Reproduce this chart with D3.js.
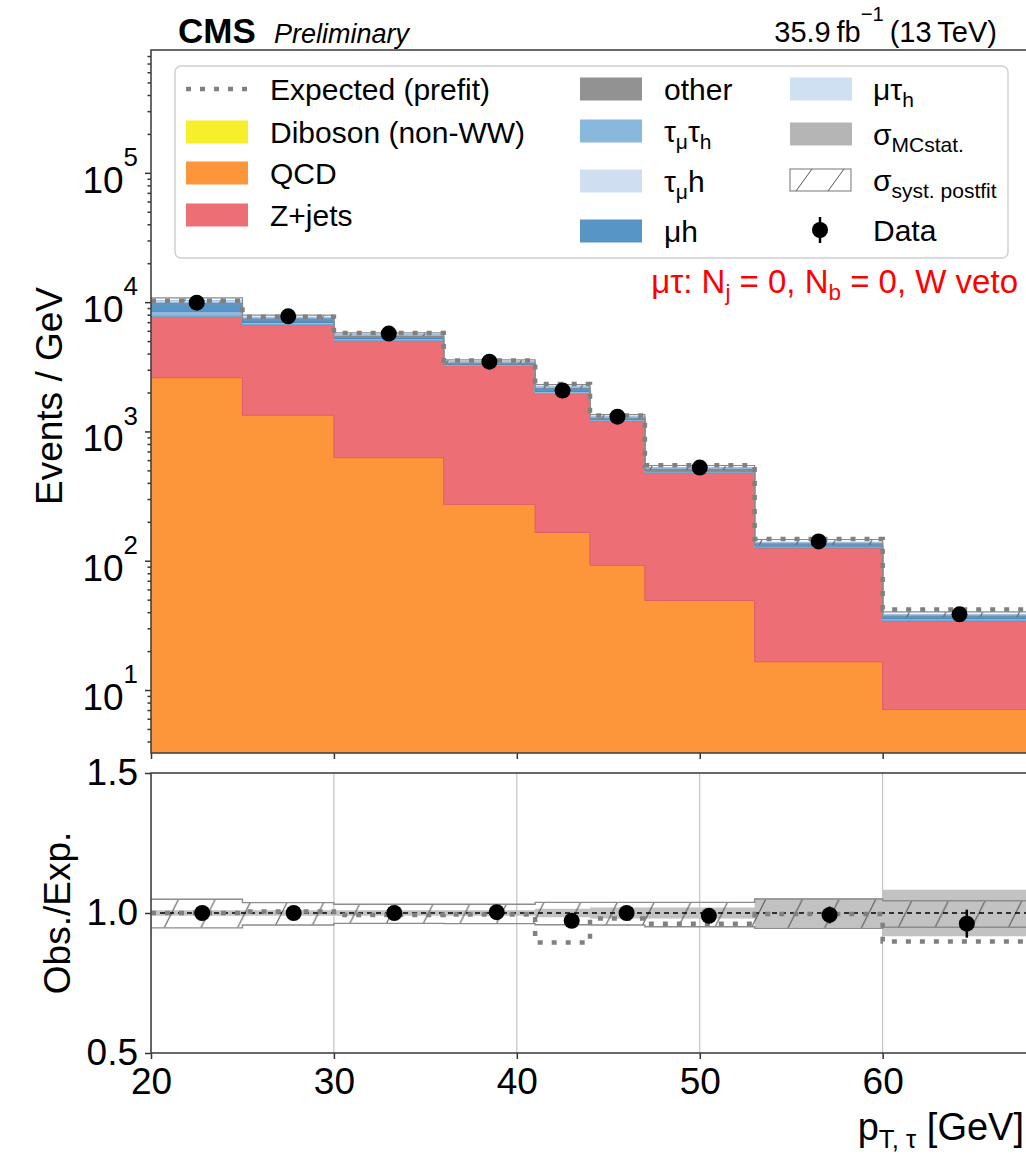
<!DOCTYPE html>
<html>
<head>
<meta charset="utf-8">
<script src="https://cdn.jsdelivr.net/npm/d3@7"></script>
<style>
    body { margin: 0; background: #fff; overflow: hidden; }
    svg { display: block; font-family: "Liberation Sans", Arial, sans-serif; }
</style>
</head>
<body>
<svg id="chart" width="1026" height="1156"></svg>
<script>
//Bin edges of p_T,tau [GeV]
let binEdges = [20, 25, 30, 36, 41, 44, 47, 53, 60, 69];
//Stacked processes (events / GeV), bottom to top
let diboson = [1.5, 1.2, 0.9, 0.6, 0.5, 0.3, 0.15, 0.06, 0.02];
let qcd = [2606, 1334, 627, 272, 165, 91.7, 49.1, 16.5, 7.05];
let zjets = [5120, 5364, 4413, 2956, 1795, 1120, 431, 109.4, 27.3];
let other = [50, 20, 12, 5, 5, 2, 1, 0.3, 0.1];
let tautauh = [500, 190, 115, 48, 52, 18, 9, 2.6, 0.8];
let tauh = [130, 50, 28, 12, 13, 4.5, 2.3, 0.7, 0.2];
let muh = [1530, 570, 340, 142, 156, 52, 27, 7.8, 2.5];
let mutauh = [333, 120, 75, 30, 34, 11.5, 5.7, 1.6, 0.5];
//Expected prefit and observed data
let prefit = [10270, 7700, 5775, 3530, 2330, 1330, 547, 147, 42];
let dataX = [22.5, 27.5, 33, 38.5, 42.5, 45.5, 50, 56.5, 64.2];
let dataY = [9911, 7766, 5710, 3465, 2070, 1300, 525, 141, 38.5];
//Ratio panel
let ratioX = [22.8, 27.8, 33.3, 38.9, 43.0, 46.0, 50.5, 57.1, 64.6];
let ratioData = [1.0, 1.0, 1.0, 1.003, 0.972, 1.0, 0.99, 0.993, 0.962];
let ratioErr = [0.004, 0.005, 0.005, 0.007, 0.01, 0.012, 0.015, 0.03, 0.05];
let ratioPrefit = [1.0, 1.005, 0.993, 0.995, 0.895, 0.98, 0.962, 0.996, 0.898];
let systLo = [0.947, 0.957, 0.963, 0.962, 0.958, 0.957, 0.951, 0.945, 0.949];
let systHi = [1.049, 1.037, 1.031, 1.031, 1.038, 1.038, 1.038, 1.05, 1.044];
let mcStat = [0.01, 0.01, 0.01, 0.01, 0.015, 0.02, 0.02, 0.053, 0.083];
//Tick labels
let xTicks = [20, 30, 40, 50, 60];
let yTicksMain = [1e1, 1e2, 1e3, 1e4, 1e5];
let yTicksRatio = [0.5, 1.0, 1.5];

let svg = d3.select("#chart");
let fontMain = 37;

//Layout
let left = 151, right = 1029;
let mainTop = 50, mainBottom = 753;
let ratioTop = 773, ratioBottom = 1053;

let x = d3.scaleLinear().domain([20, 68]).range([left, right]);
let y = d3.scaleLog().domain([Math.pow(10, 0.513), Math.pow(10, 5.95)]).range([mainBottom, mainTop]);
let yr = d3.scaleLinear().domain([0.5, 1.5]).range([ratioBottom, ratioTop]);

//Helper: text with sub/superscripts
function rich(sel, parts, fs) {
    let shift = 0;
    parts.forEach(p => {
        let s = p[1] === "sub" ? fs * 0.22 : p[1] === "sup" ? -fs * 0.72 : 0;
        let small = p[1] === "sub" ? 0.68 : p[1] === "sup" ? 0.7 : 1;
        sel.append("tspan").attr("dy", s - shift).attr("font-size", fs * small).text(p[0]);
        shift = s;
    });
    return sel;
}

//Step points for a per-bin array
function steps(vals) {
    let pts = [];
    vals.forEach((v, i) => {
        pts.push([binEdges[i], v]);
        pts.push([binEdges[i + 1], v]);
    });
    return pts;
}

let defs = svg.append("defs");
defs.append("clipPath").attr("id", "clipMain")
    .append("rect").attr("x", left).attr("y", mainTop).attr("width", right - left).attr("height", mainBottom - mainTop);
defs.append("clipPath").attr("id", "clipRatio")
    .append("rect").attr("x", left).attr("y", ratioTop).attr("width", right - left).attr("height", ratioBottom - ratioTop);
let hatch = defs.append("pattern").attr("id", "hatch")
    .attr("patternUnits", "userSpaceOnUse").attr("width", 36.7).attr("height", 73.4)
    .attr("x", left);
[-36.7, 0, 36.7].forEach(o => {
    hatch.append("line")
        .attr("x1", o).attr("y1", 73.4).attr("x2", o + 36.7).attr("y2", 0)
        .attr("stroke", "#555").attr("stroke-width", 1);
});

//------------- Main panel -------------
let layers = [
    { name: "diboson", vals: diboson, color: "#f6ef2a", edge: "#e6df1a" },
    { name: "qcd", vals: qcd, color: "#fd963a", edge: "#f07a1a" },
    { name: "zjets", vals: zjets, color: "#ed6e74", edge: "#e0606a" },
    { name: "other", vals: other, color: "#929292", edge: "#858585" },
    { name: "tautauh", vals: tautauh, color: "#88b8dc", edge: "#78a8d0" },
    { name: "tauh", vals: tauh, color: "#cfdff1", edge: "#bcd2ea" },
    { name: "muh", vals: muh, color: "#5795c7", edge: "#4a86b8" },
    { name: "mutauh", vals: mutauh, color: "#cfe0f3", edge: "#9fc0e0" }
];

let cum = binEdges.slice(0, -1).map(() => 0);
let gMain = svg.append("g").attr("clip-path", "url(#clipMain)");
let area = d3.area().x(d => x(d[0])).y0(d => y(d[1])).y1(d => y(d[2]));
layers.forEach(l => {
    let pts = [];
    l.vals.forEach((v, i) => {
        let lo = Math.max(cum[i], 1e-3), hi = cum[i] + v;
        pts.push([binEdges[i], lo, hi]);
        pts.push([binEdges[i + 1], lo, hi]);
        cum[i] = hi;
    });
    gMain.append("path")
        .attr("d", area(pts))
        .attr("fill", l.color)
        .attr("stroke", l.edge)
        .attr("stroke-width", 1);
});
let total = cum.slice();

//Postfit uncertainty on the stack
let bandPts = total.map((t, i) => [t * systLo[i], t * systHi[i]]);
let bandArea = [];
bandPts.forEach((b, i) => {
    bandArea.push([binEdges[i], b[0], b[1]]);
    bandArea.push([binEdges[i + 1], b[0], b[1]]);
});
gMain.append("path").attr("d", area(bandArea)).attr("fill", "url(#hatch)").attr("stroke", "none");
let line = d3.line().x(d => x(d[0])).y(d => y(d[1]));
gMain.append("path").attr("d", line(steps(bandPts.map(b => b[1]))))
    .attr("fill", "none").attr("stroke", "#8a8a8a").attr("stroke-width", 1.2);
gMain.append("path").attr("d", line(steps(bandPts.map(b => b[0]))))
    .attr("fill", "none").attr("stroke", "#8a8a8a").attr("stroke-width", 1.2);

//Expected prefit
gMain.append("path")
    .attr("d", line(steps(prefit)))
    .attr("fill", "none")
    .attr("stroke", "#808080")
    .attr("stroke-width", 4.5)
    .attr("stroke-dasharray", "5,9");

//Data
gMain.selectAll(".dot")
    .data(dataX.map((d, i) => [d, dataY[i]]))
    .enter().append("circle")
    .attr("class", "dot")
    .attr("cx", d => x(d[0]))
    .attr("cy", d => y(d[1]))
    .attr("r", 8)
    .attr("fill", "black");

//Axes of main panel
function styleAxis(g) {
    g.select(".domain").remove();
    g.selectAll(".tick line").attr("stroke", "#333").attr("stroke-width", 1.5);
    g.selectAll(".tick text").attr("fill", "#000").attr("font-size", fontMain)
        .attr("font-family", "'Liberation Sans', Arial, sans-serif");
}
svg.append("g").attr("transform", `translate(0,${mainBottom})`)
    .call(d3.axisBottom(x).tickValues(xTicks).tickFormat("").tickSize(6).tickSizeOuter(0))
    .call(styleAxis);

let minor = [];
for (let e = 0; e <= 5; e++) {
    for (let k = 2; k <= 9; k++) {
        let v = k * Math.pow(10, e);
        if (v > y.domain()[0] && v < y.domain()[1]) minor.push(v);
    }
}
svg.append("g").attr("transform", `translate(${left},0)`)
    .call(d3.axisLeft(y).tickValues(minor).tickFormat("").tickSize(3.5).tickSizeOuter(0))
    .call(styleAxis);
svg.append("g").attr("transform", `translate(${left},0)`)
    .call(d3.axisLeft(y).tickValues(yTicksMain).tickFormat("").tickSize(6).tickSizeOuter(0))
    .call(styleAxis);
yTicksMain.forEach(v => {
    let t = svg.append("text")
        .attr("x", 138)
        .attr("y", y(v) + 20)
        .attr("text-anchor", "end")
        .attr("font-size", fontMain);
    rich(t, [["10", ""], [String(Math.round(Math.log10(v))), "sup"]], fontMain);
});

svg.append("rect")
    .attr("x", left).attr("y", mainTop)
    .attr("width", right - left).attr("height", mainBottom - mainTop)
    .attr("fill", "none").attr("stroke", "#444").attr("stroke-width", 1.6);

//------------- Ratio panel -------------
let gRatio = svg.append("g").attr("clip-path", "url(#clipRatio)");
xTicks.forEach(t => {
    gRatio.append("line")
        .attr("x1", x(t)).attr("x2", x(t))
        .attr("y1", ratioTop).attr("y2", ratioBottom)
        .attr("stroke", "#b8b8b8").attr("stroke-width", 1);
});
let areaR = d3.area().x(d => x(d[0])).y0(d => yr(d[1])).y1(d => yr(d[2]));
let lineR = d3.line().x(d => x(d[0])).y(d => yr(d[1]));
let statPts = [], systPts = [];
mcStat.forEach((s, i) => {
    statPts.push([binEdges[i], 1 - s, 1 + s]);
    statPts.push([binEdges[i + 1], 1 - s, 1 + s]);
    systPts.push([binEdges[i], systLo[i], systHi[i]]);
    systPts.push([binEdges[i + 1], systLo[i], systHi[i]]);
});
gRatio.append("path").attr("d", areaR(statPts)).attr("fill", "#c2c2c2");
gRatio.append("path").attr("d", areaR(systPts)).attr("fill", "url(#hatch)");
gRatio.append("path").attr("d", lineR(steps(systHi)))
    .attr("fill", "none").attr("stroke", "#8c8c8c").attr("stroke-width", 1.4);
gRatio.append("path").attr("d", lineR(steps(systLo)))
    .attr("fill", "none").attr("stroke", "#8c8c8c").attr("stroke-width", 1.4);

gRatio.append("line")
    .attr("x1", left).attr("x2", right)
    .attr("y1", yr(1)).attr("y2", yr(1))
    .attr("stroke", "#000").attr("stroke-width", 1.3)
    .attr("stroke-dasharray", "5,4");

gRatio.append("path")
    .attr("d", lineR(steps(ratioPrefit)))
    .attr("fill", "none")
    .attr("stroke", "#808080")
    .attr("stroke-width", 4.5)
    .attr("stroke-dasharray", "5,9");

gRatio.selectAll(".err")
    .data(ratioX.map((d, i) => [d, ratioData[i], ratioErr[i]]))
    .enter().append("line")
    .attr("class", "err")
    .attr("x1", d => x(d[0])).attr("x2", d => x(d[0]))
    .attr("y1", d => yr(d[1] - d[2])).attr("y2", d => yr(d[1] + d[2]))
    .attr("stroke", "black").attr("stroke-width", 2.5);
gRatio.selectAll(".rdot")
    .data(ratioX.map((d, i) => [d, ratioData[i]]))
    .enter().append("circle")
    .attr("class", "rdot")
    .attr("cx", d => x(d[0]))
    .attr("cy", d => yr(d[1]))
    .attr("r", 8)
    .attr("fill", "black");

svg.append("g").attr("transform", `translate(0,${ratioBottom})`)
    .call(d3.axisBottom(x).tickValues(xTicks).tickSize(6).tickPadding(9).tickSizeOuter(0))
    .call(styleAxis);
svg.append("g").attr("transform", `translate(${left},0)`)
    .call(d3.axisLeft(yr).tickValues(yTicksRatio).tickFormat(d3.format(".1f")).tickSize(6).tickPadding(7).tickSizeOuter(0))
    .call(styleAxis);

svg.append("rect")
    .attr("x", left).attr("y", ratioTop)
    .attr("width", right - left).attr("height", ratioBottom - ratioTop)
    .attr("fill", "none").attr("stroke", "#444").attr("stroke-width", 1.6);

//------------- Axis titles -------------
svg.append("text")
    .attr("transform", "translate(62,396) rotate(-90)")
    .attr("text-anchor", "middle")
    .attr("font-size", fontMain)
    .text("Events / GeV");
svg.append("text")
    .attr("transform", "translate(70,913) rotate(-90)")
    .attr("text-anchor", "middle")
    .attr("font-size", fontMain)
    .text("Obs./Exp.");
rich(svg.append("text").attr("x", 1024).attr("y", 1140).attr("text-anchor", "end").attr("font-size", 38),
    [["p", ""], ["T, τ", "sub"], [" [GeV]", ""]], 38);

//------------- Header -------------
svg.append("text").attr("x", 178).attr("y", 43)
    .attr("font-size", 35).attr("font-weight", "bold").text("CMS");
svg.append("text").attr("x", 274).attr("y", 43)
    .attr("font-size", 27).attr("font-style", "italic").text("Preliminary");
rich(svg.append("text").attr("x", 997).attr("y", 42).attr("text-anchor", "end").attr("font-size", 29),
    [["35.9\u2009fb", ""], ["\u22121", "sup"], ["\u2009(13\u2009TeV)", ""]], 29);

rich(svg.append("text").attr("x", 1018).attr("y", 293).attr("text-anchor", "end")
    .attr("font-size", 33).attr("fill", "#ff0000"),
    [["μτ: N", ""], ["j", "sub"], [" = 0, N", ""], ["b", "sub"], [" = 0, W veto", ""]], 33);

//------------- Legend -------------
svg.append("rect")
    .attr("x", 175).attr("y", 66).attr("width", 833).attr("height", 192)
    .attr("rx", 6)
    .attr("fill", "white").attr("fill-opacity", 0.85)
    .attr("stroke", "#d0d0d0").attr("stroke-width", 1.5);

let legendItems = [
    { col: 0, cy: 89, kind: "dots", label: [["Expected (prefit)", ""]] },
    { col: 0, cy: 132, kind: "box", color: "#f6ef2a", label: [["Diboson (non-WW)", ""]] },
    { col: 0, cy: 173, kind: "box", color: "#fd963a", label: [["QCD", ""]] },
    { col: 0, cy: 215, kind: "box", color: "#ed6e74", label: [["Z+jets", ""]] },
    { col: 1, cy: 89, kind: "box", color: "#929292", label: [["other", ""]] },
    { col: 1, cy: 131, kind: "box", color: "#88b8dc", label: [["τ", ""], ["μ", "sub"], ["τ", "up"], ["h", "sub"]] },
    { col: 1, cy: 181, kind: "box", color: "#cfdff1", label: [["τ", ""], ["μ", "sub"], ["h", "up"]] },
    { col: 1, cy: 231, kind: "box", color: "#5795c7", label: [["μh", ""]] },
    { col: 2, cy: 89, kind: "box", color: "#cfe0f3", label: [["μτ", ""], ["h", "sub"]] },
    { col: 2, cy: 134, kind: "box", color: "#b5b5b5", label: [["σ", ""], ["MCstat.", "sub"]] },
    { col: 2, cy: 180, kind: "hatch", label: [["σ", ""], ["syst. postfit", "sub"]] },
    { col: 2, cy: 230, kind: "data", label: [["Data", ""]] }
];
let colSwatch = [186, 580, 790];
let colText = [270, 664, 873];
legendItems.forEach(it => {
    let sx = colSwatch[it.col];
    if (it.kind === "box") {
        svg.append("rect").attr("x", sx).attr("y", it.cy - 11.5).attr("width", 62).attr("height", 23)
            .attr("fill", it.color);
    } else if (it.kind === "dots") {
        svg.append("line").attr("x1", sx).attr("x2", sx + 62).attr("y1", it.cy).attr("y2", it.cy)
            .attr("stroke", "#808080").attr("stroke-width", 4.5).attr("stroke-dasharray", "5,9");
    } else if (it.kind === "hatch") {
        svg.append("rect").attr("x", sx).attr("y", it.cy - 11).attr("width", 61).attr("height", 22)
            .attr("fill", "white").attr("stroke", "#8c8c8c").attr("stroke-width", 1.2);
        [[sx + 6, sx + 22], [sx + 38, sx + 54]].forEach(p => {
            svg.append("line").attr("x1", p[0]).attr("y1", it.cy + 11).attr("x2", p[1]).attr("y2", it.cy - 11)
                .attr("stroke", "#555").attr("stroke-width", 1);
        });
    } else {
        svg.append("line").attr("x1", sx + 30).attr("x2", sx + 30).attr("y1", it.cy - 13).attr("y2", it.cy + 13)
            .attr("stroke", "black").attr("stroke-width", 2.5);
        svg.append("circle").attr("cx", sx + 30).attr("cy", it.cy).attr("r", 8).attr("fill", "black");
    }
    let t = svg.append("text").attr("x", colText[it.col]).attr("y", it.cy + 11).attr("font-size", 30);
    let shift = 0;
    it.label.forEach(p => {
        let s = p[1] === "sub" ? 7 : 0;
        let fs = p[1] === "sub" ? 21 : 30;
        t.append("tspan").attr("dy", s - shift).attr("font-size", fs).text(p[0]);
        shift = s;
    });
});
</script>
</body>
</html>
